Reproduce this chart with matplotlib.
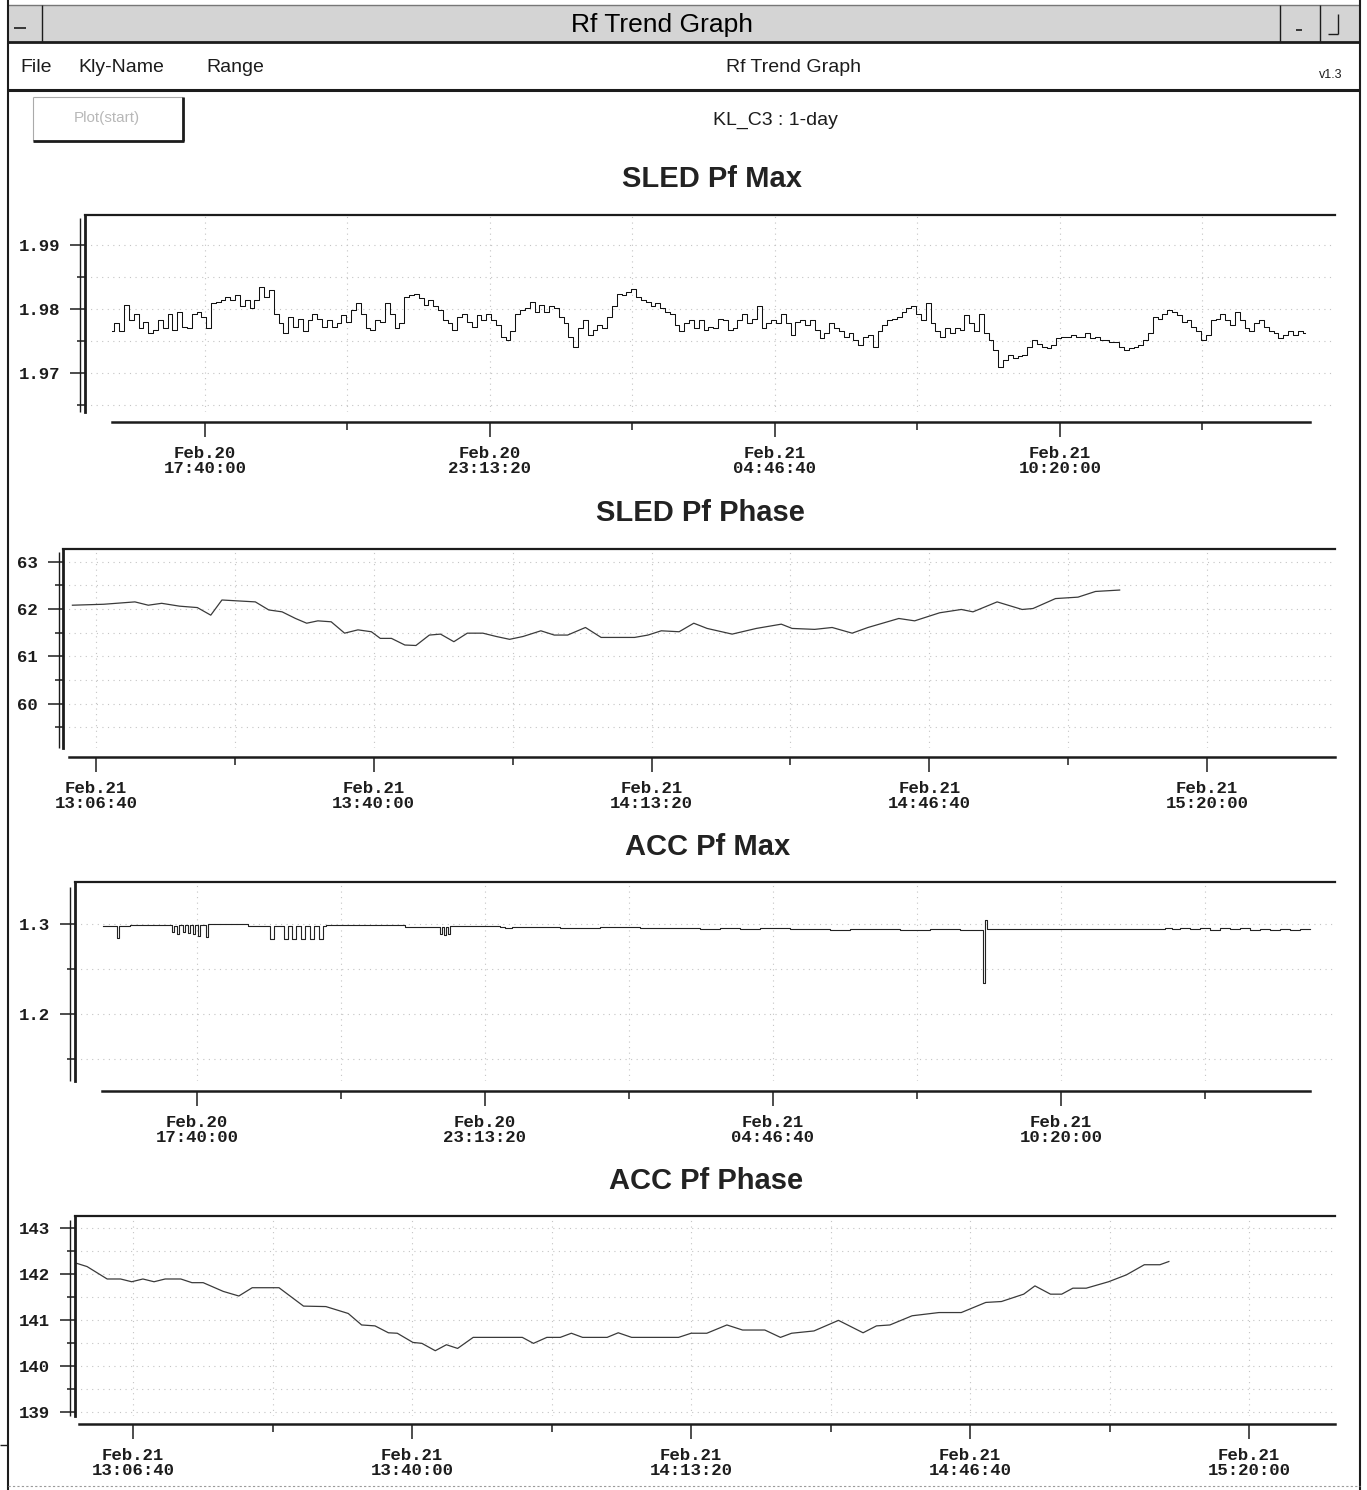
import numpy as np
import matplotlib
matplotlib.use('Agg')
import matplotlib.pyplot as plt
import matplotlib.dates as mdates
from matplotlib.ticker import FixedLocator, FixedFormatter
from matplotlib.patches import Rectangle

W, H = 1367, 1490

# ---------------- data ----------------
window_title = 'Rf Trend Graph'
menu_items = ['File', 'Kly-Name', 'Range']
app_title = 'Rf Trend Graph'
version = 'v1.3'
button_label = 'Plot(start)'
subtitle = 'KL_C3 : 1-day'
panel_titles = ['SLED Pf Max', 'SLED Pf Phase', 'ACC Pf Max', 'ACC Pf Phase']

# 1-day trend (uniform sampling between start and end)
day_start = '2003-02-20T15:51:14'
day_end = '2003-02-21T15:06:32'
sled_max_values = [
    1.9765, 1.9778, 1.9765, 1.9806, 1.9783, 1.9793, 1.9770, 1.9780, 1.9762,
    1.9767, 1.9783, 1.9770, 1.9793, 1.9767, 1.9796, 1.9772, 1.9770, 1.9793,
    1.9796, 1.9788, 1.9770, 1.9809, 1.9811, 1.9814, 1.9819, 1.9814, 1.9822, 1.9804,
    1.9814, 1.9801, 1.9814, 1.9835, 1.9819, 1.9830, 1.9793, 1.9778, 1.9762, 1.9788,
    1.9772, 1.9785, 1.9765, 1.9783, 1.9793, 1.9785, 1.9772, 1.9783, 1.9772,
    1.9778, 1.9791, 1.9780, 1.9798, 1.9809, 1.9793, 1.9770, 1.9767, 1.9783,
    1.9780, 1.9809, 1.9793, 1.9770, 1.9778, 1.9819, 1.9822, 1.9824, 1.9817, 1.9806,
    1.9814, 1.9804, 1.9798, 1.9783, 1.9778, 1.9767, 1.9788, 1.9793, 1.9780,
    1.9772, 1.9791, 1.9783, 1.9793,
    1.9783, 1.9775, 1.9757, 1.9752, 1.9765, 1.9793,
    1.9798, 1.9801, 1.9811, 1.9796, 1.9806, 1.9796, 1.9804, 1.9801, 1.9788, 1.9778,
    1.9757, 1.9741, 1.9770, 1.9783, 1.9759, 1.9767, 1.9775, 1.9770, 1.9788, 1.9804,
    1.9824, 1.9822, 1.9827, 1.9832, 1.9819, 1.9814, 1.9811, 1.9804, 1.9809, 1.9801,
    1.9796, 1.9793, 1.9775, 1.9765, 1.9778, 1.9783, 1.9770, 1.9783, 1.9767, 1.9772,
    1.9770, 1.9785, 1.9783, 1.9767, 1.9770, 1.9783, 1.9793, 1.9778, 1.9785, 1.9804,
    1.9770, 1.9778, 1.9783, 1.9778, 1.9793, 1.9778, 1.9759, 1.9780, 1.9783, 1.9775,
    1.9783, 1.9767, 1.9754, 1.9762, 1.9778, 1.9770, 1.9765, 1.9757, 1.9762, 1.9752,
    1.9744, 1.9757, 1.9759, 1.9741, 1.9765, 1.9775, 1.9783, 1.9785, 1.9788, 1.9796,
    1.9801,
    1.9804, 1.9793, 1.9783, 1.9809, 1.9778, 1.9765, 1.9757, 1.9770, 1.9762, 1.9770,
    1.9767, 1.9791, 1.9778, 1.9765, 1.9793, 1.9762, 1.9752, 1.9736, 1.9710, 1.9720,
    1.9728, 1.9723, 1.9726, 1.9728, 1.9741, 1.9752, 1.9746, 1.9741, 1.9739, 1.9744,
    1.9754, 1.9757, 1.9757, 1.9759, 1.9757, 1.9757, 1.9762, 1.9754, 1.9757, 1.9752,
    1.9752, 1.9749, 1.9749, 1.9741, 1.9736, 1.9739, 1.9741, 1.9744, 1.9752, 1.9762,
    1.9788, 1.9785, 1.9793, 1.9798, 1.9796, 1.9791, 1.9780, 1.9783, 1.9772, 1.9765,
    1.9752, 1.9759, 1.9783, 1.9785, 1.9793, 1.9783, 1.9775, 1.9796, 1.9783, 1.9770,
    1.9765, 1.9778, 1.9783, 1.9772, 1.9765, 1.9762, 1.9754, 1.9759, 1.9765, 1.9759,
    1.9765, 1.9762,
]

# ACC Pf Max: step changes, time in hours after 2003-02-20 00:00
acc_max_base = '2003-02-20T00:00:00'
acc_max_hours = [
    15.853, 16.085, 16.123, 16.162, 16.374, 16.953, 17.184, 17.223, 17.281, 17.319,
    17.397, 17.435, 17.493, 17.532, 17.590, 17.628, 17.686, 17.725, 17.840, 17.879,
    18.593, 18.650, 19.036, 19.075, 19.152, 19.345, 19.422, 19.499, 19.576, 19.673,
    19.750, 19.846, 19.924, 20.020, 20.097, 20.155, 21.583, 21.679, 21.968, 22.316,
    22.354, 22.393, 22.431, 22.470, 22.508, 22.547, 23.319, 23.512, 23.608, 23.743,
    24.090, 24.669, 25.441, 26.212, 26.984, 27.370, 27.755, 28.141, 28.527, 29.106,
    29.491, 29.877, 30.263, 30.842, 31.228, 31.806, 32.385, 32.674, 32.829, 32.867,
    32.906, 36.243, 36.339, 36.474, 36.629, 36.822, 37.015, 37.207, 37.400, 37.593,
    37.786, 37.979, 38.172, 38.365, 38.558, 38.751, 38.944, 39.136,
]
acc_max_values = [
    1.2981, 1.2981, 1.2844, 1.2981, 1.2988, 1.2988, 1.2907, 1.2981, 1.2893, 1.2985,
    1.2907, 1.2985, 1.2900, 1.2985, 1.2893, 1.2985, 1.2870, 1.2988, 1.2852, 1.3000,
    1.3000, 1.2981, 1.2981, 1.2833, 1.2981, 1.2833, 1.2981, 1.2833, 1.2981, 1.2833,
    1.2981, 1.2833, 1.2981, 1.2833, 1.2981, 1.2990, 1.2990, 1.2970, 1.2963, 1.2970,
    1.2889, 1.2970, 1.2874, 1.2970, 1.2889, 1.2974, 1.2974, 1.2963, 1.2952, 1.2963,
    1.2970, 1.2959, 1.2966, 1.2959, 1.2955, 1.2948, 1.2955, 1.2944, 1.2952, 1.2941,
    1.2948, 1.2937, 1.2944, 1.2944, 1.2937, 1.2944, 1.2937, 1.2930, 1.2344, 1.3048,
    1.2944, 1.2944, 1.2955, 1.2944, 1.2959, 1.2948, 1.2955, 1.2937, 1.2952, 1.2941,
    1.2955, 1.2937, 1.2948, 1.2933, 1.2948, 1.2937, 1.2944, 1.2941,
]

# phase trends: minutes after 2003-02-21 13:00
phase_base = '2003-02-21T13:00:00'
sled_phase_minutes = [
    3.84, 7.59, 11.34, 12.94, 14.55, 16.69, 18.83, 20.44, 21.78, 25.79,
    27.40, 29.00, 30.61, 31.95, 33.29, 34.89, 36.50, 38.10, 39.71, 40.78,
    42.12, 43.73, 45.06, 46.67, 48.01, 49.61, 51.22, 53.09, 54.70, 56.30,
    57.91, 60.05, 61.66, 63.26, 65.40, 67.28, 71.29, 72.90, 74.50, 76.64,
    78.40, 80.00, 83.00, 85.90, 88.90, 90.20, 92.90, 95.00, 97.40, 99.30,
    103.0, 104.9, 107.9, 110.5, 111.9, 114.8, 117.8, 119.1, 121.8, 124.5,
    126.6, 129.5,
]
sled_phase_values = [
    62.08, 62.10, 62.15, 62.08, 62.12, 62.06, 62.03, 61.87, 62.19, 62.15,
    61.98, 61.94, 61.80, 61.70, 61.75, 61.73, 61.49, 61.56, 61.52, 61.38,
    61.38, 61.24, 61.23, 61.45, 61.47, 61.31, 61.49, 61.49, 61.42, 61.36,
    61.42, 61.54, 61.45, 61.45, 61.61, 61.40, 61.40, 61.45, 61.54, 61.52,
    61.70, 61.59, 61.47, 61.59, 61.68, 61.59, 61.57, 61.61, 61.49, 61.61,
    61.80, 61.75, 61.92, 61.99, 61.94, 62.15, 61.99, 62.01, 62.22, 62.25,
    62.37, 62.40,
]
acc_phase_minutes = [
    -0.05, 1.18, 3.58, 5.18, 6.51, 7.85, 9.18, 10.51, 12.38, 13.71,
    15.05, 17.45, 19.31, 20.91, 24.11, 27.04, 29.71, 32.38, 33.98, 35.58,
    37.18, 38.24, 40.11, 41.18, 42.78, 44.11, 45.45, 47.31, 53.18, 54.51,
    56.11, 57.71, 59.04, 60.38, 63.31, 64.64, 66.24, 71.84, 73.35, 75.22,
    77.62, 79.49, 82.15, 84.02, 85.35, 88.02, 90.95, 93.89, 95.49, 97.09,
    99.75, 102.95, 105.62, 108.55, 110.42, 113.08, 114.42, 116.28, 117.62, 118.95,
    120.55, 123.22, 125.35, 127.49, 129.35, 130.42,
]
acc_phase_values = [
    142.23, 142.16, 141.89, 141.89, 141.83, 141.89, 141.83, 141.89, 141.89, 141.81,
    141.81, 141.62, 141.52, 141.70, 141.70, 141.30, 141.29, 141.14, 140.89, 140.87,
    140.72, 140.71, 140.51, 140.49, 140.33, 140.46, 140.38, 140.62, 140.62, 140.49,
    140.62, 140.62, 140.71, 140.62, 140.62, 140.72, 140.62, 140.62, 140.71, 140.71,
    140.89, 140.78, 140.78, 140.62, 140.71, 140.76, 140.99, 140.72, 140.87, 140.89,
    141.09, 141.16, 141.16, 141.38, 141.40, 141.56, 141.74, 141.56, 141.56, 141.69,
    141.69, 141.83, 141.98, 142.20, 142.20, 142.27,
]

# ticks
day_major_ticks = ['2003-02-20T17:40:00', '2003-02-20T23:13:20',
                   '2003-02-21T04:46:40', '2003-02-21T10:20:00']
day_minor_ticks = ['2003-02-20T20:26:40', '2003-02-21T02:00:00',
                   '2003-02-21T07:33:20', '2003-02-21T13:06:40']
hour_major_ticks = ['2003-02-21T13:06:40', '2003-02-21T13:40:00', '2003-02-21T14:13:20',
                    '2003-02-21T14:46:40', '2003-02-21T15:20:00']
hour_minor_ticks = ['2003-02-21T13:23:20', '2003-02-21T13:56:40',
                    '2003-02-21T14:30:00', '2003-02-21T15:03:20']

sled_max_yticks = [1.97, 1.98, 1.99]
sled_max_ylabels = ['1.97', '1.98', '1.99']
sled_max_yminor = [1.965, 1.975, 1.985]
sled_phase_yticks = [60, 61, 62, 63]
sled_phase_ylabels = ['60', '61', '62', '63']
sled_phase_yminor = [59.5, 60.5, 61.5, 62.5]
acc_max_yticks = [1.2, 1.3]
acc_max_ylabels = ['1.2', '1.3']
acc_max_yminor = [1.15, 1.25]
acc_phase_yticks = [139, 140, 141, 142, 143]
acc_phase_ylabels = ['139', '140', '141', '142', '143']
acc_phase_yminor = [139.5, 140.5, 141.5, 142.5]

# ---------------- helpers ----------------
def dnum(s):
    return mdates.date2num(np.datetime64(s))

def dnums(lst):
    return mdates.date2num(np.array(lst, dtype='datetime64[s]'))

MONO = ['Liberation Mono', 'DejaVu Sans Mono']
SANS = ['Liberation Sans', 'DejaVu Sans']
INK = '#1c1c1c'

fig = plt.figure(figsize=(W / 100, H / 100), dpi=100)
fig.patch.set_facecolor('white')

# background / window chrome in pixel coordinates
bg = fig.add_axes([0, 0, 1, 1])
bg.set_xlim(0, W)
bg.set_ylim(H, 0)
bg.axis('off')

def hline(y, x0, x1, lw=1.2, color=INK, **kw):
    bg.plot([x0, x1], [y, y], color=color, lw=lw, solid_capstyle='butt', **kw)

def vline(x, y0, y1, lw=1.2, color=INK, **kw):
    bg.plot([x, x], [y0, y1], color=color, lw=lw, solid_capstyle='butt', **kw)

# title bar
bg.add_patch(Rectangle((8, 5), 1352, 37, facecolor='#d4d4d4', edgecolor='none'))
hline(5, 8, 1360, lw=1.0, color='#777777')
hline(42, 8, 1360, lw=2.0)
vline(8, 0, H, lw=1.5)
vline(1360, 0, H, lw=1.5)
vline(42, 5, 42, lw=1.0)
hline(28, 14, 26, lw=1.2)
vline(1280, 5, 42, lw=1.0)
vline(1320, 5, 42, lw=1.0)
hline(30, 1296, 1302, lw=1.2)
vline(1338, 14, 34, lw=1.0)
hline(34, 1328, 1338, lw=1.0)
bg.text(662, 25, window_title, ha='center', va='center', fontsize=19,
        family=SANS, color='black')

# menu bar
hline(90, 8, 1360, lw=2.2)
menu_x = [20, 78, 206]
for mx, item in zip(menu_x, menu_items):
    bg.text(mx, 67, item, ha='left', va='center', fontsize=14, family=SANS, color=INK)
bg.text(794, 67, app_title, ha='center', va='center', fontsize=14, family=SANS, color=INK)
bg.text(1331, 75, version, ha='center', va='center', fontsize=9, family=SANS, color=INK)

# button
bg.add_patch(Rectangle((33, 97), 150, 44, facecolor='white', edgecolor='none'))
hline(97, 33, 183, lw=0.8, color='#aaaaaa')
vline(33, 97, 141, lw=0.8, color='#aaaaaa')
hline(141, 33, 184, lw=2.0)
vline(183, 97, 141, lw=2.0)
bg.text(107, 118, button_label, ha='center', va='center', fontsize=11,
        family=SANS, color='#b8b8b8')

bg.text(775, 120, subtitle, ha='center', va='center', fontsize=14, family=SANS, color=INK)

# bottom edge of window
hline(1486, 8, 1360, lw=0.8, color='#9a9a9a', linestyle=(0, (2, 2)))
hline(1445, 0, 8, lw=1.0)

# panel titles
title_pos = [(712, 179), (700, 513), (708, 847), (706, 1181)]
for (tx, ty), t in zip(title_pos, panel_titles):
    bg.text(tx, ty, t, ha='center', va='center', fontsize=21, fontweight='bold',
            family=SANS, color='#222222')

# second (thin) line of the doubled y axes
for x, y0, y1 in [(80, 218, 412), (59, 552, 748), (70, 887, 1081), (70, 1220, 1416)]:
    vline(x, y0, y1, lw=1.0)

# ---------------- panels ----------------
def make_panel(left, right, top, bottom, xlim, ylim, xmaj, xmin_, ymaj, ylab, ymin_,
               fmt, spine_lo, spine_hi, outward_px):
    ax = fig.add_axes([left / W, 1 - bottom / H, (right - left) / W, (bottom - top) / H])
    ax.set_facecolor('none')
    ax.set_xlim(*xlim)
    ax.set_ylim(*ylim)
    ax.spines['right'].set_visible(False)
    ax.spines['top'].set_linewidth(1.6)
    ax.spines['top'].set_color(INK)
    ax.spines['left'].set_linewidth(2.0)
    ax.spines['left'].set_color(INK)
    ax.spines['bottom'].set_linewidth(1.8)
    ax.spines['bottom'].set_color(INK)
    ax.spines['bottom'].set_position(('outward', outward_px * 0.72))
    ax.spines['bottom'].set_bounds(spine_lo, spine_hi)

    ax.xaxis.set_major_locator(FixedLocator(xmaj))
    ax.xaxis.set_minor_locator(FixedLocator(xmin_))
    ax.xaxis.set_major_formatter(mdates.DateFormatter(fmt))
    ax.yaxis.set_major_locator(FixedLocator(ymaj))
    ax.yaxis.set_major_formatter(FixedFormatter(ylab))
    ax.yaxis.set_minor_locator(FixedLocator(ymin_))

    ax.tick_params(axis='both', which='major', direction='out', length=11, width=1.1,
                   color=INK, labelcolor=INK)
    ax.tick_params(axis='both', which='minor', direction='out', length=6, width=1.1,
                   color=INK)
    ax.tick_params(axis='x', which='major', pad=6, labelsize=12.5)
    ax.tick_params(axis='y', which='major', pad=7, labelsize=12.5)
    for lbl in ax.get_xticklabels():
        lbl.set_linespacing(1.0)
        lbl.set_fontfamily(MONO)
        lbl.set_fontweight('bold')
    for lbl in ax.get_yticklabels():
        lbl.set_fontfamily(MONO)
        lbl.set_fontweight('bold')
    ax.grid(True, which='both', color='#c4c4c4', lw=0.8, linestyle=(0, (1, 4)))
    return ax

DAYFMT = '%b.%d\n%H:%M:%S'

# SLED Pf Max
sled_t = np.linspace(dnum(day_start), dnum(day_end), len(sled_max_values))
ax1 = make_panel(85, 1335, 215, 412,
                 (dnum('2003-02-20T15:19:40'), dnum('2003-02-21T15:41:40')),
                 (1.96391, 1.99469),
                 dnums(day_major_ticks), dnums(day_minor_ticks),
                 sled_max_yticks, sled_max_ylabels, sled_max_yminor, DAYFMT,
                 dnum('2003-02-20T15:51:14'), dnum('2003-02-21T15:12:20'), 10)
ax1.plot(sled_t, sled_max_values, drawstyle='steps-mid', color='#111111', lw=0.75)

# SLED Pf Phase
pb = dnum(phase_base)
ax2 = make_panel(63, 1335, 549, 748,
                 (pb + 2.71 / 1440, pb + 155.34 / 1440),
                 (59.067, 63.266),
                 dnums(hour_major_ticks), dnums(hour_minor_ticks),
                 sled_phase_yticks, sled_phase_ylabels, sled_phase_yminor, DAYFMT,
                 pb + 3.43 / 1440, pb + 155.34 / 1440, 9)
ax2.plot(pb + np.array(sled_phase_minutes) / 1440, sled_phase_values,
         color='#3a3a3a', lw=0.9)

# ACC Pf Max
amb = dnum(acc_max_base)
ax3 = make_panel(75, 1335, 882, 1081,
                 (dnum('2003-02-20T15:18:50'), dnum('2003-02-21T15:37:10')),
                 (1.1256, 1.3467),
                 dnums(day_major_ticks), dnums(day_minor_ticks),
                 acc_max_yticks, acc_max_ylabels, acc_max_yminor, DAYFMT,
                 dnum('2003-02-20T15:50:00'), dnum('2003-02-21T15:08:00'), 10)
ax3.plot(amb + np.array(acc_max_hours) / 24, acc_max_values, drawstyle='steps-post',
         color='#222222', lw=0.8)

# ACC Pf Phase
ax4 = make_panel(75, 1335, 1216, 1416,
                 (pb - 0.262 / 1440, pb + 150.27 / 1440),
                 (138.91, 143.26),
                 dnums(hour_major_ticks), dnums(hour_minor_ticks),
                 acc_phase_yticks, acc_phase_ylabels, acc_phase_yminor, DAYFMT,
                 pb + 0.216 / 1440, pb + 150.27 / 1440, 8)
ax4.plot(pb + np.array(acc_phase_minutes) / 1440, acc_phase_values,
         color='#3a3a3a', lw=0.9)

fig.savefig('out.png', dpi=100, facecolor='white')
